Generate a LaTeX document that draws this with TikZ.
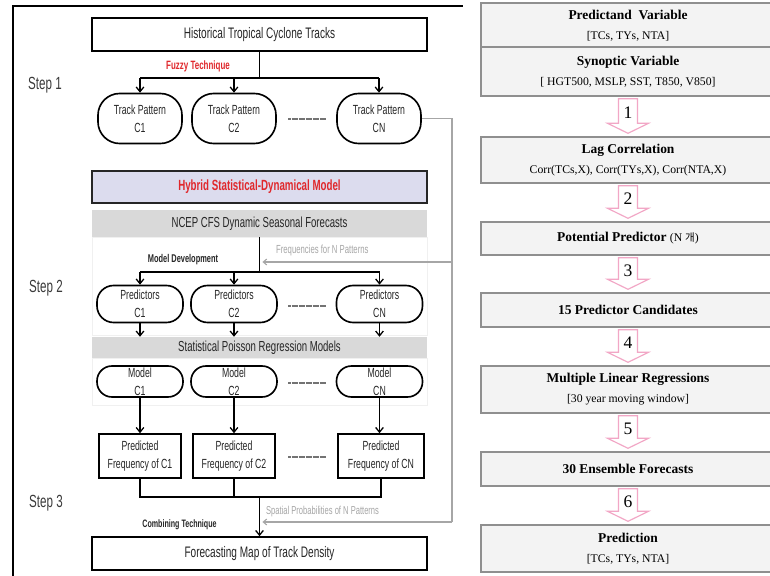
\documentclass[tikz,border=0pt]{standalone}
\usepackage{fontspec}
\setmainfont{Liberation Serif}
\newfontfamily\lsans[FakeStretch=0.66]{Liberation Sans}
\newfontfamily\krfont{Noto Sans CJK KR}
\usetikzlibrary{calc,arrows.meta,positioning}

\definecolor{hybfill}{HTML}{DCDCEE}
\definecolor{bandgray}{HTML}{D9D9D9}
\definecolor{redtxt}{HTML}{E0282C}
\definecolor{linkgray}{HTML}{A6A6A6}
\definecolor{pinkline}{HTML}{F2A7C6}
\definecolor{boxfill}{HTML}{F3F3F3}
\definecolor{boxline}{HTML}{8F8F8F}
\definecolor{steptxt}{HTML}{3A3A3A}

\tikzset{
  box/.style={draw,line width=1.4pt,minimum width=100.5mm,minimum height=9.9mm,
    inner sep=0pt,font=\lsans\fontsize{13}{15}\selectfont,text=black!85},
  fbox/.style={box,minimum width=24.6mm,minimum height=13.2mm,align=center,
    font=\lsans\fontsize{11.3}{15}\selectfont},
  pill/.style={draw,line width=1.4pt,rounded corners=5mm,minimum width=25.8mm,
    minimum height=11.1mm,inner sep=0pt,align=center,
    font=\lsans\fontsize{11.3}{15}\selectfont,text=black!85},
  band/.style={fill=bandgray,minimum width=100.5mm,minimum height=8.1mm,inner sep=0pt,
    font=\lsans\fontsize{12.4}{15}\selectfont,text=black!85},
  steplabel/.style={font=\lsans\fontsize{15}{17}\selectfont,text=steptxt},
  tag/.style={font=\lsans\bfseries\fontsize{9.6}{11}\selectfont,text=black!85},
  graytag/.style={font=\lsans\fontsize{10}{11}\selectfont,text=linkgray,anchor=west},
  link/.style={line width=1.1pt,-{Straight Barb[length=4pt,width=6.5pt]}},
  wire/.style={line width=1.1pt},
  glink/.style={draw=linkgray,line width=0.9pt},
  dots/.style={line width=0.9pt,draw=black!55,dash pattern=on 0.5pt off 0.5pt},
  rbox/.style={draw=boxline,fill=boxfill,line width=1.2pt,minimum width=88.2mm,
    inner sep=0pt,align=center},
  pinkarr/.style={draw=pinkline,fill=white,line width=1pt},
}
\newcommand{\rtitle}{\fontsize{11.5}{14}\selectfont\bfseries}
\newcommand{\rsub}{\fontsize{10}{12}\selectfont\mdseries}

\begin{document}
\begin{tikzpicture}[x=0.3mm,y=-0.3mm]
\useasboundingbox[fill=white] (0,0) rectangle (770,576);

% left frame
\draw[line width=1.5pt] (13,576) -- (13,6) -- (463,6);

% step 1
\node[box] (hist) at (259.5,34.5) {Historical Tropical Cyclone Tracks};
\node[text=redtxt,font=\lsans\bfseries\fontsize{10.3}{11}\selectfont] (fuzzy) at (198,66) {Fuzzy Technique};
\node[steplabel] (s1) at (45,85) {Step 1};
\node[pill,rounded corners=6.5mm,minimum width=25.2mm,minimum height=15mm] (t1) at (140,118.5) {Track Pattern\\C1};
\node[pill,rounded corners=6.5mm,minimum width=25.2mm,minimum height=15mm] (t2) at (234,118.5) {Track Pattern\\C2};
\node[pill,rounded corners=6.5mm,minimum width=25.2mm,minimum height=15mm] (tn) at (379,118.5) {Track Pattern\\CN};
\draw[dots] (288,119) -- (326,119);

\coordinate (split1) at (259.5,78);
\draw[wire] (hist.south) -- (split1);
\draw[wire] (t1 |- split1) -- (tn |- split1);
\foreach \t in {t1,t2,tn}
  \draw[link] (\t |- split1) -- (\t.north);

% step 2
\node[box,fill=hybfill,minimum height=9.6mm,draw=black!85,text=redtxt,
  font=\lsans\bfseries\fontsize{12.6}{14}\selectfont] (hyb) at (259.5,187) {Hybrid Statistical-Dynamical Model};
\node[band] (ncep) at (259.5,223.5) {NCEP CFS Dynamic Seasonal Forecasts};
\draw[draw=black!6] (92,237) rectangle (427,335);
\node[steplabel] (s2) at (46,288) {Step 2};
\node[tag] (dev) at (183,260) {Model Development};
\node[graytag] (freqtag) at (272,250) {Frequencies for N Patterns};

\node[pill] (p1) at (140,304) {Predictors\\C1};
\node[pill] (p2) at (234,304) {Predictors\\C2};
\node[pill] (pn) at (379.5,304) {Predictors\\CN};
\draw[dots] (288,306) -- (326,306);

\coordinate (split2) at (259.5,272);
\draw[wire] (ncep.south) -- (split2);
\draw[wire] (p1 |- split2) -- (pn |- split2);
\foreach \p in {p1,p2,pn}
  \draw[link] (\p |- split2) -- (\p.north);

\node[band,minimum height=6.3mm] (poisson) at (259.5,347.5) {Statistical Poisson Regression Models};
\foreach \p in {p1,p2,pn}
  \draw[link] (\p.south) -- (\p.south |- poisson.north);

\draw[draw=black!6] (92,358) rectangle (427,405);
\node[pill,rounded corners=4.5mm,minimum height=9.3mm] (m1) at (140,381.5) {Model\\C1};
\node[pill,rounded corners=4.5mm,minimum height=9.3mm] (m2) at (234,381.5) {Model\\C2};
\node[pill,rounded corners=4.5mm,minimum height=9.3mm] (mn) at (379.5,381.5) {Model\\CN};
\draw[dots] (288,383) -- (326,383);

% step 3
\node[fbox] (f1) at (140,456) {Predicted\\Frequency of C1};
\node[fbox] (f2) at (234,456) {Predicted\\Frequency of C2};
\node[fbox,minimum width=25.8mm] (fn) at (381,456) {Predicted\\Frequency of CN};
\draw[dots] (288,457) -- (326,457);
\foreach \m/\f in {m1/f1,m2/f2,mn/fn}
  \draw[link] (\m.south) -- (\m.south |- \f.north);

\node[steplabel] (s3) at (46,503) {Step 3};
\node[box] (map) at (259.5,553.5) {Forecasting Map of Track Density};
\coordinate (join) at (259.5,497);
\draw[wire] (f1.south) -- (f1.south |- join) -- (fn.south |- join) -- (fn.south);
\draw[wire] (f2.south) -- (f2.south |- join);
\draw[link] (join) -- (map.north);
\node[tag,font=\lsans\bfseries\fontsize{9.2}{11}\selectfont] (comb) at (179.5,525) {Combining Technique};
\node[graytag,font=\lsans\fontsize{9.8}{11}\selectfont] (spattag) at (262,512) {Spatial Probabilities of N Patterns};

% gray feedback lines
\coordinate (gtop) at (452,118.5);
\coordinate (gmid) at (452,262);
\coordinate (gbot) at (452,522);
\draw[glink] (tn.east) -- (gtop) -- (gbot);
\draw[glink,-{Straight Barb[length=3pt,width=5pt]},shorten >=2.5pt] (gmid) -- (split2 |- gmid);
\draw[glink,-{Straight Barb[length=3pt,width=5pt]},shorten >=2.5pt] (gbot) -- (join |- gbot);

% right panel
\node[rbox,minimum height=13.5mm] (pred) at (628,25.5) {\rtitle Predictand\ \ Variable\\[5pt]\rsub [TCs, TYs, NTA]};
\node[rbox,minimum height=14.7mm] (syn) at (628,71.5) {\rtitle Synoptic Variable\\[5pt]\rsub [ HGT500, MSLP, SST, T850, V850]};
\node[rbox,minimum height=13.8mm] (lag) at (628,160) {\rtitle Lag Correlation\\[5pt]\rsub Corr(TCs,X), Corr(TYs,X), Corr(NTA,X)};
\node[rbox,minimum height=9.9mm] (pot) at (628,238.5) {\rtitle Potential Predictor {\rsub (N {\krfont\fontsize{9}{12}\selectfont 개})}};
\node[rbox,minimum height=10.2mm] (cand) at (628,310) {\rtitle 15 Predictor Candidates};
\node[rbox,minimum height=14.1mm] (mlr) at (628,389.5) {\rtitle Multiple Linear Regressions\\[5pt]\rsub [30 year moving window]};
\node[rbox,minimum height=10.2mm] (ens) at (628,469) {\rtitle 30 Ensemble Forecasts};
\node[rbox,minimum height=14.1mm] (fcst) at (628,548.5) {\rtitle Prediction\\[5pt]\rsub [TCs, TYs, NTA]};

\foreach \a/\b/\n in {syn/lag/1,lag/pot/2,pot/cand/3,cand/mlr/4,mlr/ens/5,ens/fcst/6}{
  \draw[pinkarr] ($(\a.south)+(-9.5,2)$) -- ($(\b.north)+(-9.5,-13)$) -- ($(\b.north)+(-20.5,-13)$)
    -- ($(\b.north)+(0,-3)$) -- ($(\b.north)+(20.5,-13)$) -- ($(\b.north)+(9.5,-13)$)
    -- ($(\a.south)+(9.5,2)$) -- cycle;
  \node[font=\fontsize{15}{16}\selectfont] (num\n) at ($(\a.south)!0.4!(\b.north)$) {\n};
}
\end{tikzpicture}
\end{document}
